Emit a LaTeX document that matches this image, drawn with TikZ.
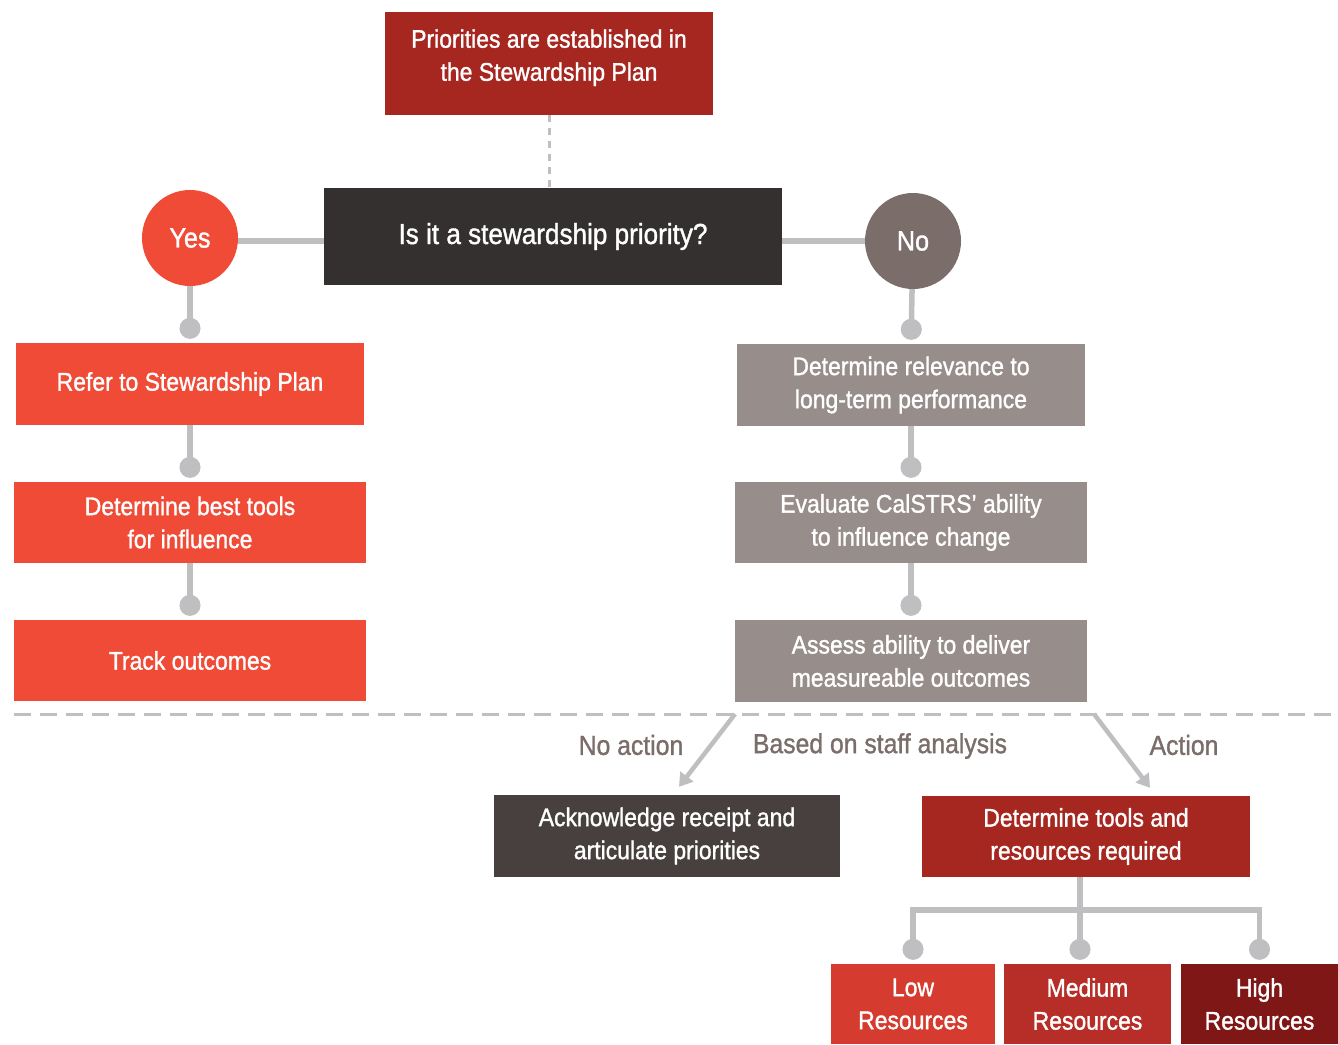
\documentclass[tikz,border=0pt]{standalone}
\usepackage{fontspec}
\setmainfont{Liberation Sans}[FakeStretch=0.9,FakeBold=1.2]
\usetikzlibrary{arrows.meta}
\usetikzlibrary{positioning}

\definecolor{darkred}{HTML}{A6271F}
\definecolor{qblack}{HTML}{343030}
\definecolor{yesred}{HTML}{F04B37}
\definecolor{nogray}{HTML}{7B6E6A}
\definecolor{boxgray}{HTML}{978D8A}
\definecolor{ackgray}{HTML}{47403E}
\definecolor{lowred}{HTML}{D53C2F}
\definecolor{medred}{HTML}{B62E27}
\definecolor{highred}{HTML}{7F1716}
\definecolor{linegray}{HTML}{BFBFC1}
\definecolor{labelgray}{HTML}{7B6E6A}

\tikzset{
  box/.style={rectangle,inner sep=0pt,text=white,align=center,font=\fontsize{25.5}{33}\selectfont},
  ball/.style={circle,inner sep=0pt,minimum size=96pt,text=white,font=\fontsize{28}{30}\selectfont},
  conn/.style={draw=linegray,line width=5.5pt},
  dotend/.style={-{Circle[length=21pt,width=21pt]},shorten >=4pt},
  arr/.style={draw=linegray,line width=4.5pt,-{Triangle[length=13pt,width=16pt]}},
  lbl/.style={text=labelgray,font=\fontsize{27.5}{30}\selectfont}
}

\begin{document}
\begin{tikzpicture}[x=1pt,y=-1pt]
\useasboundingbox (0,0) rectangle (1338,1044);

% top and question
\node[box,fill=darkred,minimum width=328pt,minimum height=103pt,text depth=17pt] (prio) at (549,63.5) {Priorities are established in\\the Stewardship Plan};
\node[box,fill=qblack,minimum width=458pt,minimum height=97pt,font=\fontsize{29}{32}\selectfont] (quest) at (553,236.5) {Is it a stewardship priority?};
\node[ball,fill=yesred] (yes) at (190,238) {Yes};
\node[ball,fill=nogray] (no) at (913,241) {No};

\draw[draw=linegray,line width=3pt,dash pattern=on 7pt off 6pt] (prio.south) -- (prio.south |- quest.north);
\draw[conn] ([yshift=-3pt]yes.east) -- ([yshift=-3pt]yes.east -| quest.west);
\draw[conn] (no) -- (no -| quest.east);

% yes branch
\node[box,fill=yesred,minimum width=348pt,minimum height=82pt] (refer) at (190,384) {Refer to Stewardship Plan};
\node[box,fill=yesred,minimum width=352pt,minimum height=81pt] (tools1) at (190,522.5) {Determine best tools\\for influence};
\node[box,fill=yesred,minimum width=352pt,minimum height=81pt] (track) at (190,660.5) {Track outcomes};
\draw[conn,dotend] (yes) -- (refer.north);
\draw[conn,dotend] (refer) -- (tools1.north);
\draw[conn,dotend] (tools1) -- (track.north);

% no branch
\node[box,fill=boxgray,minimum width=348pt,minimum height=82pt] (relev) at (911,385) {Determine relevance to\\long-term performance};
\node[box,fill=boxgray,minimum width=352pt,minimum height=81pt] (eval) at (911,522.5) {Evaluate CalSTRS’ ability\\to influence change};
\node[box,fill=boxgray,minimum width=352pt,minimum height=82pt] (assess) at (911,661) {Assess ability to deliver\\measureable outcomes};
\draw[conn,dotend] (no) -- (relev.north);
\draw[conn,dotend] (relev) -- (eval.north);
\draw[conn,dotend] (eval) -- (assess.north);

% staff analysis
\draw[draw=linegray,line width=3pt,dash pattern=on 17pt off 9pt] (14,714) -- (1338,714);
\coordinate (noact) at (735,714);
\coordinate (act) at (1094,714);
\node[box,fill=ackgray,minimum width=346pt,minimum height=82pt] (ack) at (667,836) {Acknowledge receipt and\\articulate priorities};
\node[box,fill=darkred,minimum width=328pt,minimum height=81pt] (tools2) at (1086,836.5) {Determine tools and\\resources required};
\draw[arr] (noact) -- ([xshift=12pt,yshift=8pt]ack.north);
\draw[arr] (act) -- ([xshift=64pt,yshift=8pt]tools2.north);
\node[lbl] (lnoact) at (631,745) {No action};
\node[lbl] (lstaff) at (880,746) {Based on staff analysis};
\node[lbl] (lact) at (1184,745) {Action};

% resources
\node[box,fill=lowred,minimum width=164pt,minimum height=80pt] (low) at (913,1004) {Low\\Resources};
\node[box,fill=medred,minimum width=167pt,minimum height=80pt] (med) at (1087.5,1004) {Medium\\Resources};
\node[box,fill=highred,minimum width=157pt,minimum height=80pt] (high) at (1259.5,1004) {High\\Resources};
\coordinate (fork) at (1080,910);
\draw[conn] (tools2.south -| fork) -- (fork);
\draw[conn,dotend] (fork) -| (low.north);
\draw[conn,dotend] (fork) -- (fork |- med.north);
\draw[conn,dotend] (fork) -| (high.north);

\end{tikzpicture}
\end{document}
